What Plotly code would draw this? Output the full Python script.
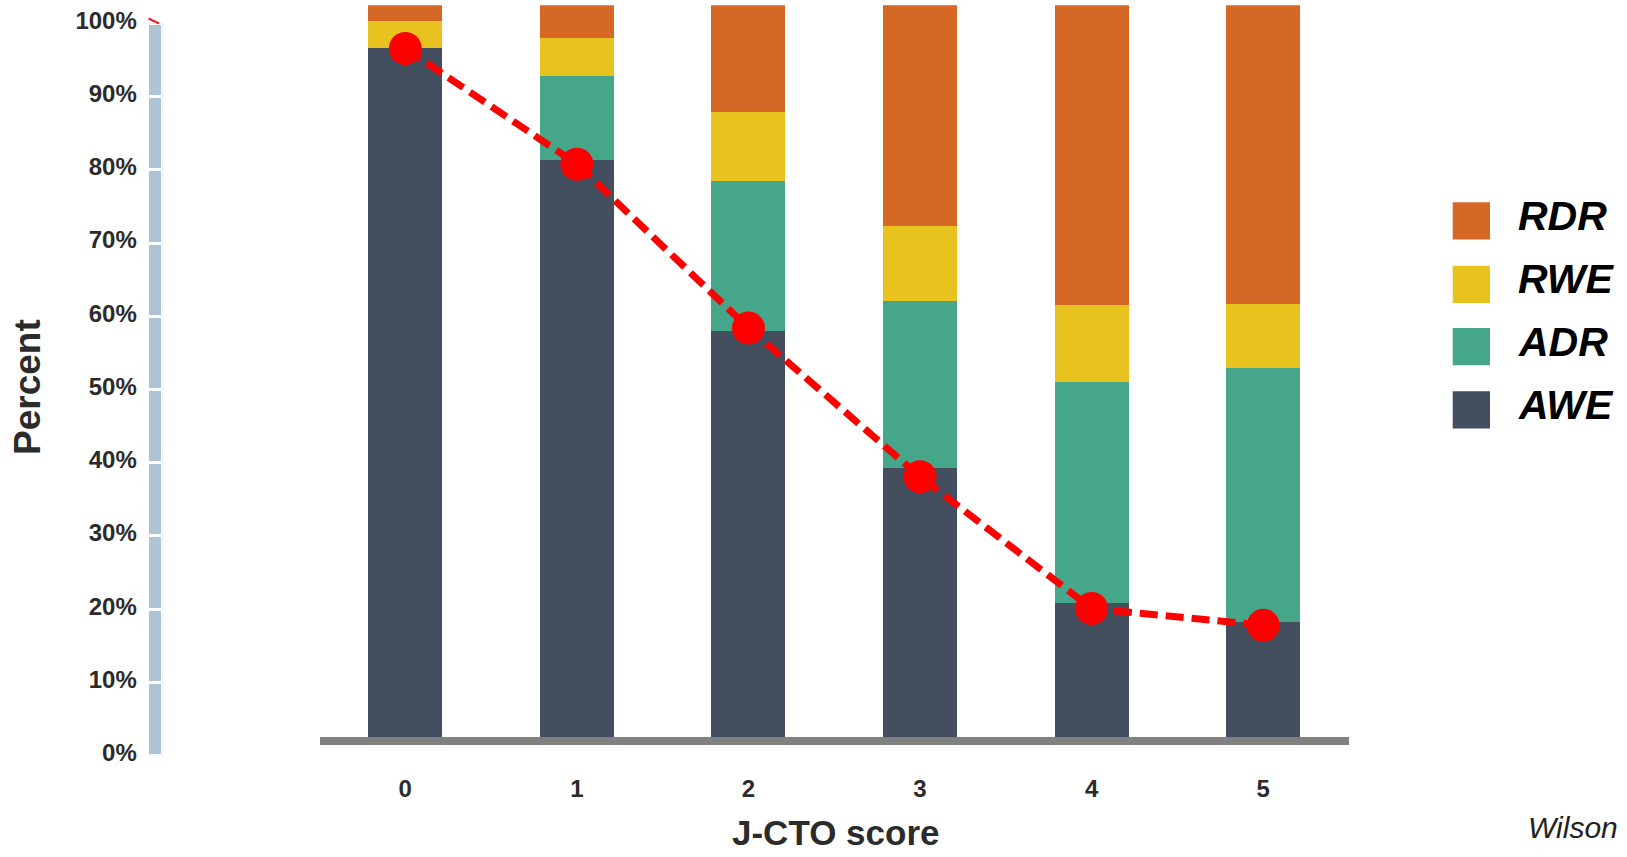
import plotly.graph_objects as go

# ---------------- data ----------------
categories = ["0", "1", "2", "3", "4", "5"]
awe = [94.2, 78.9, 55.5, 36.8, 18.4, 15.8]
adr = [0.0, 11.4, 20.5, 22.8, 30.2, 34.6]
rwe = [3.6, 5.3, 9.4, 10.2, 10.5, 8.8]
rdr = [2.2, 4.4, 14.6, 30.2, 40.9, 40.8]
trend = [94.1, 78.3, 55.9, 35.6, 17.6, 15.3]

series_names = ["AWE", "ADR", "RWE", "RDR"]
series_values = [awe, adr, rwe, rdr]
series_colors = ["#434F5F", "#45A68A", "#E8C21E", "#D66826"]

left_ticks = [0, 10, 20, 30, 40, 50, 60, 70, 80, 90, 100]
left_tick_labels = ["0%", "10%", "20%", "30%", "40%", "50%", "60%", "70%", "80%", "90%", "100%"]

x_title = "J-CTO score"
y_title = "Percent"
credit = "Wilson"

# ---------------- layout helpers (page px -> paper) ----------------
W, H = 1627, 857


def px(xp):
    return xp / W


def py(yp):
    return 1 - yp / H


FONT = "Liberation Sans, Arial, sans-serif"

fig = go.Figure()

# stacked bars
for name, vals, col in zip(series_names, series_values, series_colors):
    fig.add_trace(go.Bar(
        x=categories, y=vals, name=name,
        marker=dict(color=col, line=dict(width=0)),
        showlegend=False, hoverinfo="x+y+name",
    ))

# red dashed trend line with dots
fig.add_trace(go.Scatter(
    x=categories, y=trend, mode="lines+markers",
    line=dict(color="#FF0000", width=7, dash="18px,8px"),
    marker=dict(color="#FF0000", size=33),
    showlegend=False, cliponaxis=False,
))

# left separate percentage axis bar (segmented)
seg = [b - a for a, b in zip(left_ticks[:-1], left_ticks[1:])]
fig.add_trace(go.Bar(
    x=[0] * len(seg), y=seg, base=left_ticks[:-1], width=1,
    marker=dict(color="#AEC4D4", line=dict(color="white", width=3)),
    xaxis="x2", yaxis="y2", showlegend=False, hoverinfo="skip",
))

# main plot geometry (page px)
plot_left, plot_right = 319.5, 1349.0
bar_bottom, bar_top_px = 737.3, 5.3

# left axis geometry
ax_left, ax_right = 147.8, 162.5
ax_zero, ax_hundred = 755.7, 23.3

fig.update_layout(
    width=W, height=H,
    margin=dict(l=0, r=0, t=0, b=0, autoexpand=False),
    paper_bgcolor="white", plot_bgcolor="white",
    barmode="stack", bargap=1 - 74.0 / 171.6,
    font=dict(family=FONT, color="#2b2b2b"),
    showlegend=False,
    xaxis=dict(
        domain=[px(plot_left), px(plot_right)],
        type="category", range=[-0.5, 5.5], automargin=False,
        showline=True, linecolor="#808080", linewidth=8.4,
        showgrid=False, zeroline=False, ticks="",
        tickfont=dict(family=FONT, size=24, color="#2b2b2b", weight="bold"),
        ticklabelstandoff=23,
        anchor="y", fixedrange=True,
    ),
    yaxis=dict(
        domain=[py(bar_bottom), py(bar_top_px)], automargin=False,
        range=[0, 100], visible=False, fixedrange=True,
    ),
    xaxis2=dict(
        domain=[px(ax_left), px(ax_right)], range=[-0.5, 0.5], automargin=False,
        visible=False, anchor="y2", fixedrange=True,
    ),
    yaxis2=dict(
        domain=[py(ax_zero), py(ax_hundred)], range=[0, 100], automargin=False,
        anchor="x2", side="left",
        tickvals=left_ticks, ticktext=left_tick_labels,
        showgrid=False, zeroline=False, showline=False, ticks="",
        tickfont=dict(family=FONT, size=24, color="#2b2b2b", weight="bold"),
        ticklabelstandoff=10, ticklabelshift=-3, ticklabeloverflow="allow",
        fixedrange=True,
    ),
)

# legend drawn manually (top to bottom: RDR, RWE, ADR, AWE)
leg_tops = [202.3, 265.7, 328.0, 391.3]
sq = 37.3
for top, name, col in zip(leg_tops, series_names[::-1], series_colors[::-1]):
    fig.add_shape(type="rect", xref="paper", yref="paper",
                  x0=px(1452.7), x1=px(1452.7 + sq), y0=py(top + sq), y1=py(top),
                  fillcolor=col, line=dict(width=0))
    fig.add_annotation(x=px(1516), y=py(top + sq / 2 - 5), xref="paper", yref="paper",
                       text=name, showarrow=False, xanchor="left", yanchor="middle",
                       font=dict(family=FONT, size=41, color="black",
                                 weight="bold", style="italic"))

# axis titles
fig.add_annotation(x=px(836), y=py(832), xref="paper", yref="paper", text=x_title,
                   showarrow=False, xanchor="center", yanchor="middle",
                   font=dict(family=FONT, size=35, color="#2b2b2b", weight="bold"))
fig.add_annotation(x=px(27.5), y=py(387.5), xref="paper", yref="paper", text=y_title,
                   showarrow=False, xanchor="center", yanchor="middle", textangle=-90,
                   font=dict(family=FONT, size=37, color="#2b2b2b", weight="bold"))
fig.add_annotation(x=px(1573), y=py(827), xref="paper", yref="paper", text=credit,
                   showarrow=False, xanchor="center", yanchor="middle",
                   font=dict(family=FONT, size=30, color="#222222", style="italic"))

# small red artifact at top of the left axis
fig.add_shape(type="line", xref="paper", yref="paper",
              x0=px(148.5), y0=py(18.5), x1=px(159), y1=py(23.5),
              line=dict(color="#E8202A", width=2))

fig.write_html("out.html", config={"displayModeBar": False},
               post_script="document.body.style.margin='0';")
